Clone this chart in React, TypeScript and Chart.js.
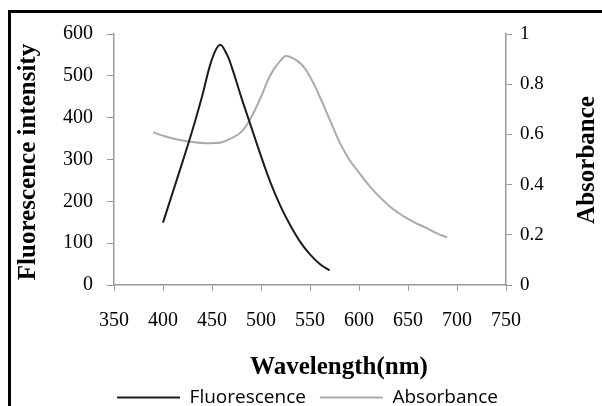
import React, { useEffect, useRef } from 'react';
import { Chart, registerables } from 'chart.js';

Chart.register(...registerables);

// ---- data ----
const fluorWavelength = [400, 410, 420, 430, 440, 450, 458, 465, 470, 480, 490, 500, 510, 520, 530, 540, 550, 560, 570];
const fluorIntensity = [149, 222, 295, 370, 452, 540, 574, 552, 522, 448, 378, 308, 243, 188, 142, 103, 73, 50, 35];

const absWavelength = [390, 400, 410, 420, 430, 440, 450, 460, 470, 480, 490, 500, 510, 520, 526, 540, 550, 560, 570, 580, 590, 600, 610, 620, 630, 640, 650, 660, 670, 680, 690];
const absorbance = [0.608, 0.595, 0.584, 0.576, 0.57, 0.566, 0.565, 0.569, 0.585, 0.61, 0.668, 0.75, 0.84, 0.895, 0.912, 0.883, 0.83, 0.75, 0.66, 0.57, 0.5, 0.448, 0.398, 0.355, 0.318, 0.288, 0.263, 0.243, 0.225, 0.205, 0.19];

const xRange = [350, 750];
const xStep = 50;
const leftRange = [0, 600];
const leftStep = 100;
const rightRange = [0, 1];
const rightStep = 0.2;

const seriesNames = ['Fluorescence', 'Absorbance'];
const xTitle = 'Wavelength(nm)';
const leftTitle = 'Fluorescence intensity';
const rightTitle = 'Absorbance';

const SERIF = "'Liberation Serif', 'Times New Roman', serif";
const SANS = "'Open Sans', 'Noto Sans', sans-serif";
const AXIS_COLOR = '#9a9a9a';
const LEGEND_SHIFT = 11;
const PAD_LEFT = 13;

const titlePlugin = {
  id: 'axisTitles',
  afterDraw(chart: any) {
    const ctx = chart.ctx as CanvasRenderingContext2D;
    ctx.save();
    ctx.fillStyle = '#000';
    ctx.font = `bold 25px ${SERIF}`;
    ctx.textAlign = 'center';
    ctx.textBaseline = 'middle';
    ctx.fillText(xTitle, 339, 368);

    ctx.save();
    ctx.translate(29, 162);
    ctx.rotate(-Math.PI / 2);
    ctx.fillText(leftTitle, 0, 0);
    ctx.restore();

    ctx.save();
    ctx.translate(588, 160);
    ctx.rotate(-Math.PI / 2);
    ctx.fillText(rightTitle, 0, 0);
    ctx.restore();

    ctx.restore();
  },
};

export default function App() {
  const ref = useRef<HTMLCanvasElement>(null);

  useEffect(() => {
    if (!ref.current) return;
    const chart = new Chart(ref.current, {
      type: 'line',
      data: {
        datasets: [
          {
            label: seriesNames[0],
            data: fluorWavelength.map((x, i) => ({ x, y: fluorIntensity[i] })),
            yAxisID: 'y',
            borderColor: '#1c1c1c',
            backgroundColor: '#1c1c1c',
            borderWidth: 2,
            pointRadius: 0,
            tension: 0.4,
            fill: false,
          },
          {
            label: seriesNames[1],
            data: absWavelength.map((x, i) => ({ x, y: absorbance[i] })),
            yAxisID: 'y1',
            borderColor: '#aaaaaa',
            backgroundColor: '#aaaaaa',
            borderWidth: 2,
            pointRadius: 0,
            tension: 0.4,
            fill: false,
          },
        ],
      },
      options: {
        responsive: false,
        animation: false,
        layout: { padding: { top: 34, left: PAD_LEFT, right: 0, bottom: -LEGEND_SHIFT } },
        plugins: {
          legend: {
            position: 'bottom',
            labels: {
              usePointStyle: true,
              pointStyle: 'line',
              pointStyleWidth: 63,
              color: '#000',
              font: { family: SANS, size: 19 },
              padding: 14,
            },
          },
          tooltip: { enabled: false },
        },
        scales: {
          x: {
            type: 'linear',
            min: xRange[0],
            max: xRange[1],
            ticks: { stepSize: xStep, color: '#000', font: { family: SERIF, size: 20 }, padding: 18, maxRotation: 0 },
            grid: { drawOnChartArea: false, drawTicks: true, tickLength: 6, color: AXIS_COLOR, tickColor: AXIS_COLOR },
            border: { color: AXIS_COLOR, width: 1.5 },
            afterFit: (s: any) => {
              const lh = s.chart.legend ? s.chart.legend.height : 0;
              s.height = s.chart.height + LEGEND_SHIFT - 285 - lh;
            },
          },
          y: {
            position: 'left',
            min: leftRange[0],
            max: leftRange[1],
            ticks: { stepSize: leftStep, color: '#000', font: { family: SERIF, size: 20 }, padding: 14 },
            grid: { drawOnChartArea: false, drawTicks: true, tickLength: 7, color: AXIS_COLOR, tickColor: AXIS_COLOR },
            border: { color: AXIS_COLOR, width: 1.5 },
            afterFit: (s: any) => {
              s.width = 114 - PAD_LEFT;
            },
          },
          y1: {
            position: 'right',
            min: rightRange[0],
            max: rightRange[1],
            ticks: {
              stepSize: rightStep,
              color: '#000',
              font: { family: SERIF, size: 19 },
              padding: 8,
              callback: (v: any) => String(Math.round(Number(v) * 10) / 10),
            },
            grid: { drawOnChartArea: false, drawTicks: true, tickLength: 6, color: AXIS_COLOR, tickColor: AXIS_COLOR },
            border: { color: AXIS_COLOR, width: 1.5 },
            afterFit: (s: any) => {
              s.width = 96;
            },
          },
        },
      },
      plugins: [titlePlugin],
    } as any);
    return () => chart.destroy();
  }, []);

  return (
    <div style={{ position: 'absolute', left: 0, top: 0, width: 602, height: 406, background: '#fff', overflow: 'hidden' }}>
      <canvas ref={ref} width={602} height={406} style={{ display: 'block', width: 602, height: 406 }} />
      <div
        style={{
          position: 'absolute',
          left: 8,
          top: 10,
          width: 594,
          height: 396,
          boxSizing: 'border-box',
          borderTop: '3px solid #000',
          borderLeft: '3px solid #000',
          pointerEvents: 'none',
        }}
      />
    </div>
  );
}
